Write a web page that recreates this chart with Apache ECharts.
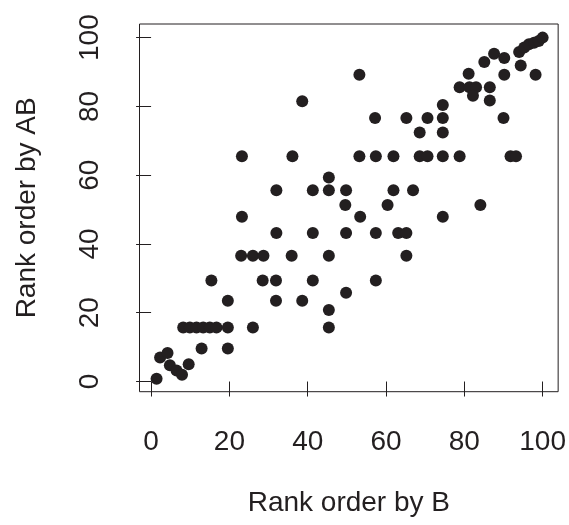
<!DOCTYPE html>
<html>
<head>
<meta charset="utf-8">
<script src="https://cdn.jsdelivr.net/npm/echarts@6/dist/echarts.min.js"></script>
<style>
  html, body { margin: 0; padding: 0; background: #fff; }
  #chart { width: 569px; height: 525px; }
</style>
</head>
<body>
<div id="chart"></div>
<script>
// rank by B (x) and rank by AB (y)
const rankB = [
  38.6, 53.2, 81.1, 85.1, 87.6, 90.2, 94.4, 90.2, 98.2,
  94.0, 95.3, 96.5, 97.8, 99.0, 100.0,
  78.8, 81.3, 83.0, 86.5, 82.2, 86.5, 74.5,
  57.2, 65.2, 70.6, 74.5, 90.0,
  68.6, 74.5,
  23.2, 36.1, 53.2, 57.4, 61.9, 68.6, 70.6, 74.5, 78.8, 91.8, 93.2,
  45.4,
  32.0, 41.3, 45.4, 49.8, 61.9, 66.9,
  49.6, 60.4, 84.1,
  23.2, 53.4, 74.5,
  32.0, 41.3, 49.8, 57.4, 63.1, 65.2,
  23.0, 26.0, 28.7, 35.9, 45.4, 65.2,
  15.4, 28.5, 31.9, 41.3, 57.4,
  49.8,
  19.6, 31.9, 38.6,
  45.4,
  8.2, 9.9, 11.6, 13.3, 15.0, 16.7, 19.6, 26.0, 45.4,
  12.9, 19.6,
  2.3, 4.2, 4.8, 6.5, 7.9, 9.6, 1.4
];
const rankAB = [
  81.5, 89.2, 89.5, 92.9, 95.3, 94.1, 91.9, 89.2, 89.2,
  95.8, 97.1, 98.1, 98.5, 99.0, 100.0,
  85.6, 85.6, 85.6, 85.6, 83.1, 81.7, 80.4,
  76.6, 76.6, 76.6, 76.6, 76.6,
  72.4, 72.4,
  65.5, 65.5, 65.5, 65.5, 65.5, 65.5, 65.5, 65.5, 65.5, 65.5, 65.5,
  59.3,
  55.6, 55.6, 55.6, 55.6, 55.6, 55.6,
  51.3, 51.3, 51.3,
  47.9, 47.9, 47.9,
  43.2, 43.2, 43.2, 43.2, 43.2, 43.2,
  36.6, 36.6, 36.6, 36.6, 36.6, 36.6,
  29.4, 29.4, 29.4, 29.4, 29.4,
  25.8,
  23.5, 23.5, 23.5,
  20.8,
  15.7, 15.7, 15.7, 15.7, 15.7, 15.7, 15.7, 15.7, 15.7,
  9.6, 9.6,
  7.0, 8.3, 4.7, 3.2, 2.0, 5.0, 0.8
];
const tickValues = [0, 20, 40, 60, 80, 100];

const ink = '#231f20';
const font = "'Liberation Sans', Arial, sans-serif";

const chart = echarts.init(document.getElementById('chart'));

const axisCommon = {
  type: 'value',
  min: -2.96,
  max: 103.96,
  splitLine: { show: false },
  axisLine: { show: false },
  axisTick: {
    show: true,
    inside: false,
    length: 15,
    customValues: tickValues,
    lineStyle: { color: ink, width: 1 }
  },
  nameLocation: 'middle',
  nameTextStyle: { color: ink, fontSize: 28, fontFamily: font }
};

chart.setOption({
  animation: false,
  backgroundColor: '#fff',
  grid: {
    left: 139.5,
    right: 9,
    top: 24,
    bottom: 133.3,
    show: true,
    borderColor: ink,
    borderWidth: 1
  },
  xAxis: Object.assign({}, axisCommon, {
    name: 'Rank order by B',
    nameGap: 98,
    axisLabel: {
      customValues: tickValues,
      color: ink,
      fontSize: 28,
      fontFamily: font,
      margin: 37
    }
  }),
  yAxis: Object.assign({}, axisCommon, {
    name: 'Rank order by AB',
    nameGap: 98,
    nameRotate: 90,
    axisLabel: {
      customValues: tickValues,
      color: ink,
      fontSize: 28,
      fontFamily: font,
      rotate: 90,
      margin: 35
    }
  }),
  series: [{
    type: 'scatter',
    symbol: 'circle',
    symbolSize: 12,
    itemStyle: { color: ink, opacity: 1 },
    data: rankB.map((b, i) => [b, rankAB[i]])
  }]
});
</script>
</body>
</html>
